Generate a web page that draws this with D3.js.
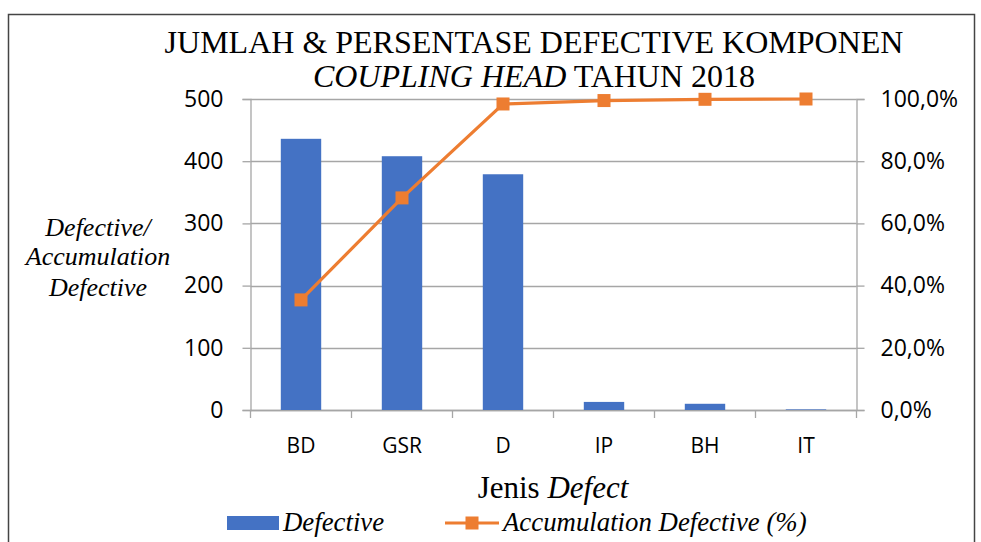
<!DOCTYPE html>
<html><head><meta charset="utf-8">
<script src="https://cdn.jsdelivr.net/npm/d3@7"></script>
<style>body{margin:0;background:#fff}svg{display:block}</style>
</head><body>
<svg id="c" width="981" height="542"></svg>
<script>
const categories = ["BD","GSR","D","IP","BH","IT"];
const defective = [436, 408, 379, 13, 10, 1];
const accumulation = [35.4, 68.2, 98.4, 99.5, 99.9, 100.0];
const leftTicks = [0,100,200,300,400,500];
const rightTicks = [0,20,40,60,80,100];

const svg = d3.select("#c");
const L = 250.5, R = 856.5, T = 99, B = 410;
const x = d3.scaleBand().domain(categories).range([L, R]).paddingInner(0.6).paddingOuter(0.3);
const xb = d3.scaleBand().domain(categories).range([L, R]);
const y = d3.scaleLinear().domain([0,500]).range([B, T]);
const y2 = d3.scaleLinear().domain([0,100]).range([B, T]);
const grid = "#a6a6a6";
const tickFont = "'Open Sans', sans-serif";
const serif = "'Liberation Serif', 'Times New Roman', serif";

// border
svg.append("rect").attr("x",8.5).attr("y",14.5).attr("width",966).attr("height",540)
  .attr("fill","none").attr("stroke","#444").attr("stroke-width",1.5);

// gridlines
svg.append("g").selectAll("line").data(leftTicks).join("line")
  .attr("x1",L).attr("x2",R).attr("y1",d=>Math.round(y(d))+0.5).attr("y2",d=>Math.round(y(d))+0.5)
  .attr("stroke",grid).attr("stroke-width",1.3);

// left axis
const gl = svg.append("g").attr("transform",`translate(${L},0)`)
  .call(d3.axisLeft(y).tickValues(leftTicks).tickSize(8).tickPadding(19));
gl.select(".domain").attr("stroke",grid).attr("stroke-width",1.3);
gl.selectAll(".tick line").attr("stroke",grid).attr("stroke-width",1.3);
gl.selectAll("text").attr("font-family",tickFont).attr("font-size",23).attr("fill","#000");

// right axis
const gr = svg.append("g").attr("transform",`translate(${R},0)`)
  .call(d3.axisRight(y2).tickValues(rightTicks).tickSize(8).tickPadding(16)
    .tickFormat(d=>d3.format(".1f")(d).replace(".",",")+"%"));
gr.select(".domain").attr("stroke",grid).attr("stroke-width",1.3);
gr.selectAll(".tick line").attr("stroke",grid).attr("stroke-width",1.3);
gr.selectAll("text").attr("font-family",tickFont).attr("font-size",23).attr("fill","#000");

// bottom axis
const gb = svg.append("g").attr("transform",`translate(0,${B})`)
  .call(d3.axisBottom(xb).tickSize(0).tickPadding(28));
gb.select(".domain").remove();
gb.selectAll("text").attr("font-family",tickFont).attr("font-size",21).attr("fill","#000");
svg.append("line").attr("x1",L).attr("x2",R).attr("y1",B+0.5).attr("y2",B+0.5).attr("stroke",grid).attr("stroke-width",1.3);
const bounds = d3.range(categories.length+1).map(i=>L + i*xb.step());
svg.append("g").selectAll("line").data(bounds).join("line")
  .attr("x1",d=>d).attr("x2",d=>d).attr("y1",B).attr("y2",B+8).attr("stroke",grid).attr("stroke-width",1.3);

// bars
svg.append("g").selectAll("rect").data(categories).join("rect")
  .attr("x",d=>x(d)).attr("width",x.bandwidth())
  .attr("y",(d,i)=>y(defective[i])).attr("height",(d,i)=>B-y(defective[i]))
  .attr("fill","#4472c4");

// line
const cx = d=>xb(d)+xb.bandwidth()/2;
svg.append("path").datum(categories)
  .attr("d", d3.line().x(d=>cx(d)).y((d,i)=>y2(accumulation[i])))
  .attr("fill","none").attr("stroke","#ed7d31").attr("stroke-width",3.2);
svg.append("g").selectAll("rect").data(categories).join("rect")
  .attr("x",d=>cx(d)-6.5).attr("y",(d,i)=>y2(accumulation[i])-6.5).attr("width",13).attr("height",13)
  .attr("fill","#ed7d31");

// title
const t = svg.append("text").attr("x",534).attr("font-family",serif).attr("font-size",32).attr("text-anchor","middle").attr("fill","#000");
t.append("tspan").attr("x",534).attr("y",53).text("JUMLAH & PERSENTASE DEFECTIVE KOMPONEN");
const t2 = t.append("tspan").attr("x",534).attr("y",87);
t2.append("tspan").attr("font-style","italic").text("COUPLING HEAD");
t2.append("tspan").text(" TAHUN 2018");

// y axis title
const yt = svg.append("text").attr("font-family",serif).attr("font-size",26).attr("font-style","italic").attr("text-anchor","middle").attr("fill","#000");
[["Defective/",236],["Accumulation",265],["Defective",296]].forEach(([s,yy])=>yt.append("tspan").attr("x",98).attr("y",yy).text(s));

// x axis title
const xt = svg.append("text").attr("x",553).attr("y",498).attr("font-family",serif).attr("font-size",31).attr("text-anchor","middle").attr("fill","#000");
xt.append("tspan").text("Jenis ");
xt.append("tspan").attr("font-style","italic").text("Defect");

// legend
svg.append("rect").attr("x",227).attr("y",516).attr("width",52).attr("height",14).attr("fill","#4472c4");
svg.append("text").attr("x",283).attr("y",531).attr("font-family",serif).attr("font-size",26.8).attr("font-style","italic").text("Defective");
svg.append("line").attr("x1",445).attr("x2",499).attr("y1",523).attr("y2",523).attr("stroke","#ed7d31").attr("stroke-width",3.2);
svg.append("rect").attr("x",465.5).attr("y",516.5).attr("width",13).attr("height",13).attr("fill","#ed7d31");
svg.append("text").attr("x",503).attr("y",531).attr("font-family",serif).attr("font-size",26.8).attr("font-style","italic").text("Accumulation Defective (%)");
</script>
</body></html>
